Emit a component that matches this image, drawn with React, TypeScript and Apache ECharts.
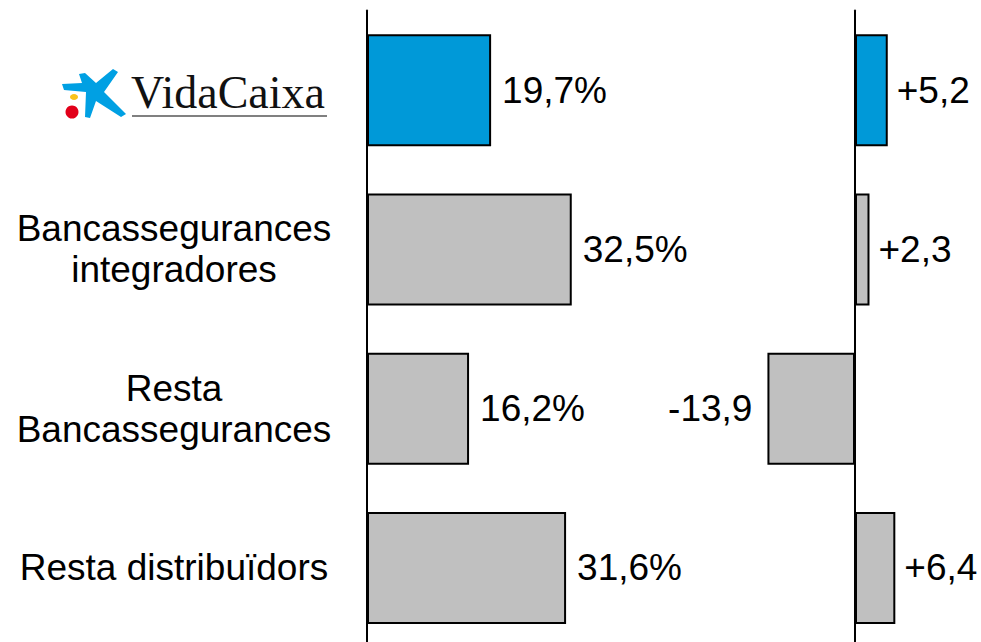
import React, { useEffect, useRef } from "react";
import * as echarts from "echarts";

const categories = [
  "VidaCaixa",
  "Bancassegurances\nintegradores",
  "Resta\nBancassegurances",
  "Resta distribuïdors",
];
const shareValues = [19.7, 32.5, 16.2, 31.6];
const changeValues = [5.2, 2.3, -13.9, 6.4];

const BLUE = "#0099D8";
const GREY = "#C0C0C0";
const FONT = "'Liberation Sans', Arial, sans-serif";

const fmt = (v: number) => v.toFixed(1).replace(".", ",");

export default function App() {
  const ref = useRef<HTMLDivElement>(null);
  useEffect(() => {
    if (!ref.current) return;
    const chart = echarts.init(ref.current, undefined, { renderer: "svg" });
    const barStyle = (i: number) => ({
      color: i === 0 ? BLUE : GREY,
      borderColor: "#000",
      borderWidth: 2,
    });
    chart.setOption({
      animation: false,
      backgroundColor: "#fff",
      grid: [
        { left: 367, width: 252, top: 10.5, height: 637 },
        { left: 729, width: 252, top: 10.5, height: 637 },
      ],
      xAxis: [
        { type: "value", gridIndex: 0, min: 0, max: 40, show: false },
        { type: "value", gridIndex: 1, min: -20, max: 20, show: false },
      ],
      yAxis: [
        {
          type: "category",
          gridIndex: 0,
          data: categories,
          inverse: true,
          axisLine: { show: true, lineStyle: { color: "#000", width: 2 } },
          axisTick: { show: false },
          splitLine: { show: false },
          axisLabel: {
            margin: 193,
            align: "center",
            color: "#000",
            fontFamily: FONT,
            fontSize: 37,
            lineHeight: 41,
            formatter: (v: string) => (v === "VidaCaixa" ? "" : v),
          },
        },
        {
          type: "category",
          gridIndex: 1,
          data: categories,
          inverse: true,
          axisLine: { show: true, onZero: true, lineStyle: { color: "#000", width: 2 } },
          axisTick: { show: false },
          axisLabel: { show: false },
          splitLine: { show: false },
        },
      ],
      series: [
        {
          type: "bar",
          xAxisIndex: 0,
          yAxisIndex: 0,
          barWidth: 112,
          data: shareValues.map((v, i) => ({ value: v, itemStyle: barStyle(i) })),
          label: {
            show: true,
            position: "right",
            distance: 11,
            color: "#000",
            fontFamily: FONT,
            fontSize: 37,
            formatter: (p: any) => fmt(p.value) + "%",
          },
        },
        {
          type: "bar",
          xAxisIndex: 1,
          yAxisIndex: 1,
          barWidth: 112,
          data: changeValues.map((v, i) => ({
            value: v,
            itemStyle: barStyle(i),
            label: { position: v < 0 ? "left" : "right", distance: v < 0 ? 15 : 9 },
          })),
          label: {
            show: true,
            color: "#000",
            fontFamily: FONT,
            fontSize: 37,
            formatter: (p: any) => (p.value > 0 ? "+" : "") + fmt(p.value),
          },
        },
      ],
      graphic: [
        {
          type: "polygon",
          shape: {
            points: [
              [62, 84], [82, 83], [79, 74], [85, 73], [96, 83], [113, 69], [118, 72],
              [104, 92], [126, 114], [121, 117], [96, 101], [90, 118], [85, 117],
              [86, 92], [64, 90],
            ],
          },
          style: { fill: "#00A0E3" },
        },
        { type: "ellipse", shape: { cx: 74, cy: 97, rx: 4, ry: 3 }, style: { fill: "#F9C21A" } },
        { type: "circle", shape: { cx: 72, cy: 112, r: 6.5 }, style: { fill: "#E2001A" } },
        {
          type: "text",
          x: 131,
          y: 92,
          style: {
            text: "VidaCaixa",
            fill: "#111",
            font: "46px 'Liberation Serif', 'Times New Roman', serif",
            verticalAlign: "middle",
            align: "left",
          },
        },
        {
          type: "line",
          shape: { x1: 132, y1: 116, x2: 327, y2: 116 },
          style: { stroke: "#808080", lineWidth: 2 },
        },
      ],
    });
    return () => chart.dispose();
  }, []);
  return (
    <div
      ref={ref}
      style={{ position: "fixed", left: 0, top: 0, width: 981, height: 660 }}
    />
  );
}
